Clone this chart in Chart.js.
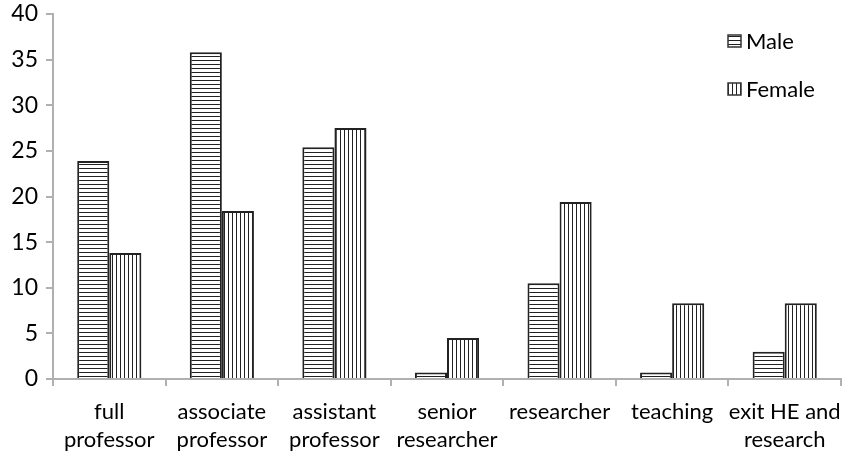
<!DOCTYPE html>
<html>
<head>
<meta charset="utf-8">
<script src="https://cdn.jsdelivr.net/npm/chart.js@4.4.1/dist/chart.umd.min.js"></script>
<style>
  html, body { margin: 0; padding: 0; background: #fff; }
  #wrap { width: 842px; height: 452px; }
</style>
</head>
<body>
<div id="wrap"><canvas id="genderChart"></canvas></div>
<script>
var categories = [
  ['full', 'professor'],
  ['associate', 'professor'],
  ['assistant', 'professor'],
  ['senior', 'researcher'],
  ['researcher'],
  ['teaching'],
  ['exit HE and', 'research']
];
var maleValues = [23.9, 35.8, 25.4, 0.7, 10.5, 0.7, 3.0];
var femaleValues = [13.8, 18.4, 27.5, 4.5, 19.4, 8.3, 8.3];
var yTicks = [0, 5, 10, 15, 20, 25, 30, 35, 40];
var seriesNames = ['Male', 'Female'];

// striped fills, like the old office hatches
function stripes(horizontal) {
  var c = document.createElement('canvas');
  c.width = 4; c.height = 4;
  var g = c.getContext('2d');
  g.fillStyle = '#fff';
  g.fillRect(0, 0, 4, 4);
  g.fillStyle = '#222';
  if (horizontal) g.fillRect(0, 0, 4, 1);
  else g.fillRect(0, 0, 1, 4);
  return g.createPattern(c, 'repeat');
}
var maleFill = stripes(true);
var femaleFill = stripes(false);

var fontFamily = 'Lato, "Open Sans", sans-serif';
var axisGrey = '#b0b0b0';

var legendBox = {
  id: 'legendBox',
  afterDraw: function (chart) {
    var ctx = chart.ctx;
    var items = [[maleFill, 35], [femaleFill, 83]];
    ctx.save();
    ctx.font = '22px ' + fontFamily;
    ctx.textBaseline = 'middle';
    items.forEach(function (it, i) {
      ctx.fillStyle = it[0];
      ctx.fillRect(728, it[1], 13, 12);
      ctx.strokeStyle = '#333';
      ctx.lineWidth = 1.5;
      ctx.strokeRect(728, it[1], 13, 12);
      ctx.fillStyle = '#000';
      ctx.fillText(seriesNames[i], 746, it[1] + 7);
    });
    ctx.restore();
  }
};

var options1 = {
  type: 'bar',
  data: {
    labels: categories,
    datasets: [
      {
        label: seriesNames[0],
        data: maleValues,
        backgroundColor: maleFill,
        borderColor: '#222',
        borderWidth: 2,
        borderSkipped: 'bottom'
      },
      {
        label: seriesNames[1],
        data: femaleValues,
        backgroundColor: femaleFill,
        borderColor: '#222',
        borderWidth: 2,
        borderSkipped: 'bottom'
      }
    ]
  },
  options: {
    responsive: true,
    maintainAspectRatio: false,
    animation: false,
    layout: { padding: { top: 14, right: 1, left: 0, bottom: 0 } },
    datasets: {
      bar: { barPercentage: 1, categoryPercentage: 0.57 }
    },
    plugins: {
      legend: { display: false },
      tooltip: { enabled: false }
    },
    scales: {
      x: {
        afterFit: function (scale) {
          scale.height = 73;
          scale.paddingLeft = 0;
          scale.paddingRight = 0;
        },
        grid: {
          display: true,
          drawOnChartArea: false,
          color: axisGrey,
          tickLength: 7,
          lineWidth: 2
        },
        border: { color: axisGrey, width: 2 },
        ticks: {
          color: '#000',
          padding: 12,
          font: { family: fontFamily, size: 22, lineHeight: 1.27 },
          maxRotation: 0,
          autoSkip: false
        }
      },
      y: {
        min: 0,
        max: 40,
        afterBuildTicks: function (scale) {
          scale.ticks = yTicks.map(function (v) { return { value: v }; });
        },
        afterFit: function (scale) {
          scale.width = 53;
          scale.paddingTop = 0;
          scale.paddingBottom = 0;
        },
        grid: {
          display: true,
          drawOnChartArea: false,
          color: axisGrey,
          tickLength: 7,
          lineWidth: 2
        },
        border: { color: axisGrey, width: 2 },
        ticks: {
          color: '#000',
          padding: 8,
          font: { family: fontFamily, size: 23 }
        }
      }
    }
  },
  plugins: [legendBox]
};

var ctx1 = document.getElementById('genderChart').getContext('2d');
new Chart(ctx1, options1);
</script>
</body>
</html>
